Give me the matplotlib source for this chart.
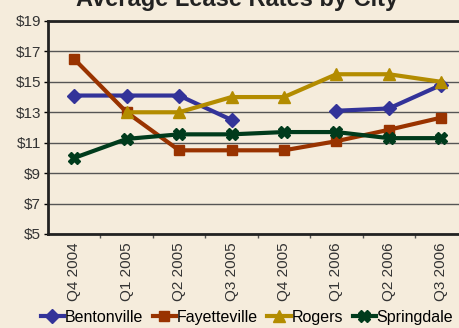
import matplotlib.pyplot as plt
import numpy as np

plt.rcParams['font.family'] = ['Liberation Sans', 'DejaVu Sans']

quarters = ['Q4 2004', 'Q1 2005', 'Q2 2005', 'Q3 2005',
            'Q4 2005', 'Q1 2006', 'Q2 2006', 'Q3 2006']
bentonville = [14.1, 14.1, 14.1, 12.5, np.nan, 13.1, 13.25, 14.8]
fayetteville = [16.5, 13.0, 10.5, 10.5, 10.5, 11.1, 11.85, 12.65]
rogers = [np.nan, 13.0, 13.0, 14.0, 14.0, 15.5, 15.5, 15.0]
springdale = [10.0, 11.25, 11.55, 11.55, 11.7, 11.7, 11.3, 11.3]
y_ticks = [5, 7, 9, 11, 13, 15, 17, 19]

bg = '#F5ECDC'
fig = plt.figure(figsize=(4.6, 3.28), dpi=100, facecolor=bg)
ax = fig.add_axes([0.1043, 0.2866, 0.912, 0.6494])
ax.set_facecolor(bg)

x = np.arange(len(quarters))
series = [
    ('Bentonville', bentonville, '#333399', 'D', 7),
    ('Fayetteville', fayetteville, '#993300', 's', 7),
    ('Rogers', rogers, '#B38C00', '^', 9),
    ('Springdale', springdale, '#003B1C', 'X', 8),
]
for name, vals, col, mk, ms in series:
    ax.plot(x, vals, color=col, lw=3, marker=mk, ms=ms, label=name,
            markeredgecolor=col)

ax.set_xlim(-0.5, len(quarters) - 0.5)
ax.set_ylim(5, 19)
ax.set_yticks(y_ticks)
ax.set_yticklabels([f'${v}' for v in y_ticks], fontsize=11, color='#333333')
ax.set_xticks(x)
ax.set_xticklabels(quarters, rotation=90, fontsize=11, color='#333333')
ax.set_xticks(x[:-1] + 0.5, minor=True)
ax.tick_params(axis='x', which='major', length=0, pad=6)
ax.tick_params(axis='x', which='minor', length=3, width=1, color='#555555')
ax.tick_params(axis='y', length=3, width=1, pad=2)

ax.yaxis.grid(True, color='#555555', lw=1)
ax.set_axisbelow(True)
for s in ['left', 'bottom', 'top']:
    ax.spines[s].set_linewidth(2)
    ax.spines[s].set_color('#222222')
ax.spines['right'].set_visible(False)

# title is clipped at the top edge in the original, keep it that way
fig.text(0.515, 0.982, 'Average Lease Rates by City', ha='center',
         va='baseline', fontsize=17, fontweight='bold', color='#222222')

fig.legend(loc='center', bbox_to_anchor=(0.537, 0.033), ncol=4, frameon=False,
           fontsize=11.5, handlelength=1.45, handletextpad=0.05,
           columnspacing=0.6, borderaxespad=0)

fig.savefig('out.png', dpi=100, facecolor=bg)
